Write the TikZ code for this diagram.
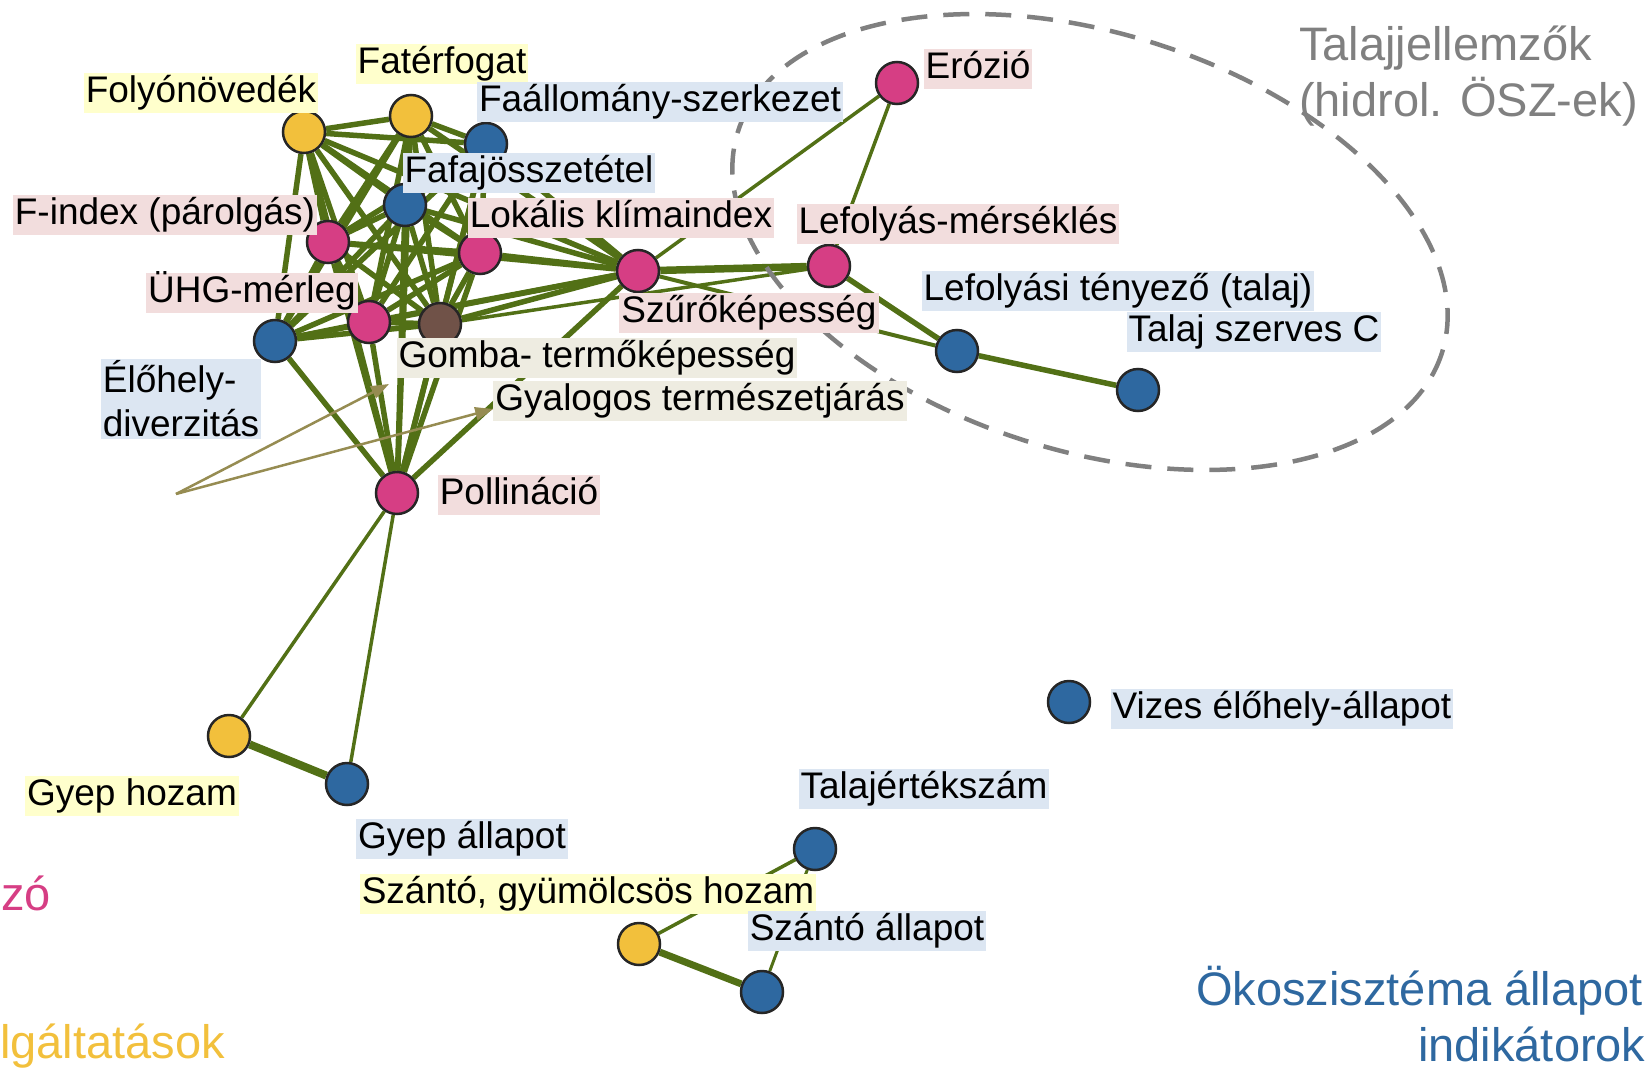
\documentclass[tikz,border=0pt]{standalone}
\usepackage{fontspec}
\setmainfont{Liberation Sans}
\usetikzlibrary{arrows.meta,backgrounds}
\definecolor{regpink}{RGB}{214,62,132}
\definecolor{statblue}{RGB}{46,104,160}
\definecolor{provyel}{RGB}{242,192,60}
\definecolor{fungbrown}{RGB}{112,82,72}
\definecolor{edgegreen}{RGB}{82,112,22}
\definecolor{pinkbg}{RGB}{242,221,221}
\definecolor{bluebg}{RGB}{220,230,242}
\definecolor{yelbg}{RGB}{255,255,204}
\definecolor{beigebg}{RGB}{238,236,225}
\definecolor{ringgray}{RGB}{128,128,128}
\definecolor{pointolive}{RGB}{150,140,82}

\begin{document}
\begin{tikzpicture}[x=1pt,y=-1pt,
  dot/.style={circle,draw=black!85,line width=2.5pt,minimum size=42pt,inner sep=0pt},
  lab/.style={font=\fontsize{37}{44}\selectfont,inner sep=2pt,text height=27pt,text depth=9pt},
  link/.style={draw=edgegreen,line width=5.5pt},
  pointer/.style={draw=pointolive,line width=2.5pt,-{Triangle[length=18pt,width=13pt]}},
  bigtext/.style={font=\fontsize{47}{56}\selectfont,inner sep=0pt}]
 \useasboundingbox (0,0) rectangle (1647,1068);
 \clip (0,0) rectangle (1647,1068);
 \foreach \n/\x/\y/\c in {fol/304/132/provyel,fat/411/116/provyel,faal/486/144/statblue,
   faf/405/205/statblue,find/328/242/regpink,lok/480/253/regpink,uhg/369/322/regpink,
   gom/440/324/fungbrown,elo/275/341/statblue,szu/638/271/regpink,lef/829/266/regpink,
   ero/897/83/regpink,ltt/957/351/statblue,tsc/1138/390/statblue,pol/397/493/regpink,
   gyh/229/736/provyel,gya/347/784/statblue,viz/1069/702/statblue,tal/815/849/statblue,
   szh/639/944/provyel,sza/762/992/statblue}{%
   \node[dot,fill=\c] (\n) at (\x,\y) {};
 }
 \begin{scope}[on background layer]
  \foreach \a [count=\i] in {fol,fat,faal,faf,find,lok,uhg,gom,elo,szu,pol}{%
    \foreach \b [count=\j] in {fol,fat,faal,faf,find,lok,uhg,gom,elo,szu,pol}{%
      \ifnum\j>\i \draw[link] (\a)--(\b); \fi
    }
  }
  \foreach \a/\b/\w in {szu/lef/7.5,lef/ero/3.5,szu/ero/3.5,lef/ltt/5.5,szu/ltt/4,ltt/tsc/5.5,
    lef/gom/3.5,pol/gyh/3.5,pol/gya/3.5,gyh/gya/8,szh/sza/7,szh/tal/3.5,sza/tal/3}{%
    \draw[link,line width=\w pt] (\a)--(\b);
  }
 \end{scope}
 \draw[ringgray,line width=4.5pt,dash pattern=on 26pt off 16pt,rotate around={-17.4:(1090,242)}]
   (1090,242) ellipse [x radius=369,y radius=209];
 \foreach \n/\x/\y/\c/\t in {follab/201/93/yelbg/Folyónövedék,fatlab/442/64/yelbg/Fatérfogat,
   faallab/660/102/bluebg/Faállomány-szerkezet,faflab/529/173/bluebg/Fafajösszetétel,
   findlab/165/215/pinkbg/F-index (párolgás),loklab/621/218/pinkbg/Lokális klímaindex,
   leflab/958/224/pinkbg/Lefolyás-mérséklés,uhglab/252/293/pinkbg/ÜHG-mérleg,
   lttlab/1118/291/bluebg/Lefolyási tényező (talaj),szulab/749/313/pinkbg/Szűrőképesség,
   tsclab/1254/332/bluebg/Talaj szerves C,gomlab/597/358/beigebg/Gomba- termőképesség,
   gyalab/700/401/beigebg/Gyalogos természetjárás,pollab/519/495/pinkbg/Pollináció,
   erolab/978/69/pinkbg/Erózió,vizlab/1282/709/bluebg/Vizes élőhely-állapot,
   gyhlab/132/796/yelbg/Gyep hozam,tallab/924/789/bluebg/Talajértékszám,
   gyalab2/462/839/bluebg/Gyep állapot,szhlab/588/894/yelbg/{Szántó, gyümölcsös hozam},
   szalab/867/931/bluebg/Szántó állapot}{%
   \node[lab,fill=\c] (\n) at (\x,\y) {\t};
 }
 \node[lab,fill=bluebg,align=left,text height=,text depth=] (elolab) at (181,399) {Élőhely-\\diverzitás};
 \coordinate (src) at (176,494);
 \coordinate (gomtip) at (389,384);
 \draw[pointer] (src) -- (gomtip);
 \draw[pointer] (src) -- ([yshift=-8pt]gyalab.west);
 \node[bigtext,text=ringgray,anchor=base west] (soiltitle) at (1299,60) {Talajjellemzők};
 \node[bigtext,text=ringgray,anchor=base west] (soilsub) at (1299,116) {(hidrol. ÖSZ-ek)};
 \node[bigtext,text=statblue,anchor=base west] (statetitle) at (1196,1005) {Ökoszisztéma állapot};
 \node[bigtext,text=statblue,anchor=base west] (statesub) at (1418,1061) {indikátorok};
 \node[bigtext,text=regpink,anchor=base west] (regtitle) at (1,910) {zó};
 \node[bigtext,text=provyel,anchor=base west] (provtitle) at (0,1058) {lgáltatások};
\end{tikzpicture}
\end{document}
